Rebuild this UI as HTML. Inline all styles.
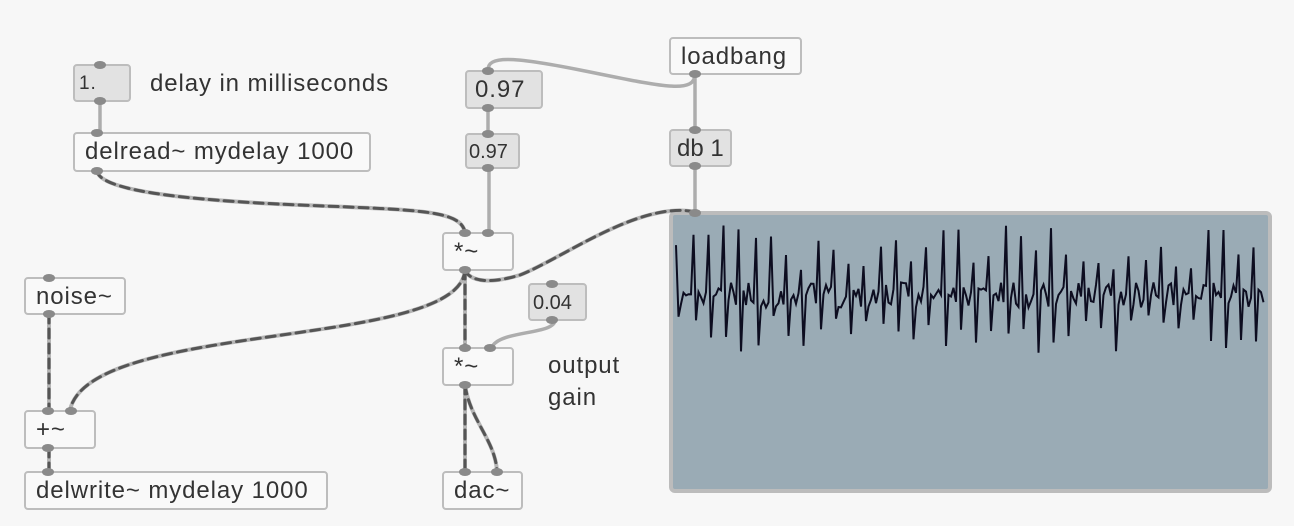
<!DOCTYPE html>
<html><head><meta charset="utf-8"><style>
body{margin:0;width:1294px;height:526px;background:#f7f7f7;overflow:hidden;font-family:"Liberation Sans",sans-serif;position:relative}
.b{position:absolute;box-sizing:border-box;border:2px solid #bdbdbd;border-radius:4px;background:#f9f9f9;color:#333;font-size:24px;letter-spacing:0.9px;padding-left:10px;line-height:36px;white-space:nowrap}
.n{background:#e2e2e2}
.t{position:absolute;color:#333;font-size:24px;letter-spacing:0.9px;white-space:nowrap}
svg{position:absolute;left:0;top:0}
</style></head><body>
<svg width="1294" height="526">
<rect x="671" y="213" width="599" height="278" rx="4" fill="#9aabb5" stroke="#bcbcbc" stroke-width="4"/>
<polyline id="w" fill="none" stroke="#0d0d20" stroke-width="2"/>
<g fill="none" stroke-linecap="round">
<path d="M100 100V132M488 108V133M489 168V232M695 74V129M695 166V212M695 74C695 95 660 86 580 70C510 56 488 56 488 70M555 320C555 335 500 330 492 347" stroke="#adadad" stroke-width="3.5"/>
<g stroke="#b5b5b5" stroke-width="4">
<path id="a" d="M97 170C97 190 180 200 300 205C420 210 460 210 465 232M465 270C460 350 90 320 70 410M695 212C640 200 560 260 520 275C470 290 465 270 465 270M49 314V410M465 270V347M49 448V471M465 385V471M465 385C470 420 495 440 497 471"/>
</g>
<use href="#a" stroke="#555" stroke-width="3" stroke-dasharray="9 6"/>
</g>
</svg>
<div class="b n" style="left:73px;top:64px;width:58px;height:38px;font-size:19px;padding-left:4px">1.</div>
<div class="t" style="left:150px;top:70px">delay in milliseconds</div>
<div class="b" style="left:73px;top:132px;width:298px;height:40px">delread~ mydelay 1000</div>
<div class="b n" style="left:465px;top:70px;width:78px;height:39px;padding-left:8px">0.97</div>
<div class="b n" style="left:465px;top:133px;width:55px;height:36px;font-size:20px;padding-left:2px;line-height:34px;letter-spacing:0">0.97</div>
<div class="b" style="left:669px;top:37px;width:133px;height:38px">loadbang</div>
<div class="b n" style="left:669px;top:129px;width:63px;height:38px;padding-left:6px;letter-spacing:0">db 1</div>
<div class="b" style="left:442px;top:232px;width:72px;height:39px">*~</div>
<div class="b" style="left:24px;top:277px;width:102px;height:38px">noise~</div>
<div class="b n" style="left:528px;top:283px;width:59px;height:38px;font-size:20px;padding-left:3px;letter-spacing:0">0.04</div>
<div class="b" style="left:442px;top:347px;width:72px;height:39px">*~</div>
<div class="t" style="left:548px;top:350px;line-height:32px">output<br>gain</div>
<div class="b" style="left:24px;top:410px;width:72px;height:39px">+~</div>
<div class="b" style="left:24px;top:471px;width:304px;height:39px">delwrite~ mydelay 1000</div>
<div class="b" style="left:442px;top:471px;width:81px;height:39px">dac~</div>
<svg width="1294" height="526"><g fill="#8a8a8a">
<ellipse cx="100" cy="65" rx="6" ry="4"/><ellipse cx="100" cy="101" rx="6" ry="4"/>
<ellipse cx="97" cy="133" rx="6" ry="4"/><ellipse cx="97" cy="171" rx="6" ry="4"/>
<ellipse cx="488" cy="71" rx="6" ry="4"/><ellipse cx="488" cy="108" rx="6" ry="4"/>
<ellipse cx="488" cy="134" rx="6" ry="4"/><ellipse cx="488" cy="168" rx="6" ry="4"/>
<ellipse cx="695" cy="74" rx="6" ry="4"/><ellipse cx="695" cy="130" rx="6" ry="4"/><ellipse cx="695" cy="166" rx="6" ry="4"/>
<ellipse cx="695" cy="213" rx="6" ry="4"/>
<ellipse cx="465" cy="233" rx="6" ry="4"/><ellipse cx="488" cy="233" rx="6" ry="4"/><ellipse cx="465" cy="270" rx="6" ry="4"/>
<ellipse cx="49" cy="278" rx="6" ry="4"/><ellipse cx="49" cy="314" rx="6" ry="4"/>
<ellipse cx="552" cy="284" rx="6" ry="4"/><ellipse cx="552" cy="320" rx="6" ry="4"/>
<ellipse cx="465" cy="348" rx="6" ry="4"/><ellipse cx="490" cy="348" rx="6" ry="4"/><ellipse cx="465" cy="385" rx="6" ry="4"/>
<ellipse cx="48" cy="411" rx="6" ry="4"/><ellipse cx="71" cy="411" rx="6" ry="4"/><ellipse cx="48" cy="448" rx="6" ry="4"/>
<ellipse cx="48" cy="472" rx="6" ry="4"/>
<ellipse cx="465" cy="472" rx="6" ry="4"/><ellipse cx="497" cy="472" rx="6" ry="4"/>
</g></svg>
<script>
var s=11,r=function(){s=(s*16807)%2147483647;return s/2147483647};
var p=[];for(var x=676;x<1266;x+=2.5){var ph=((x-676)%15.6)/15.6;var y=295+(r()-0.5)*25;
if(ph<0.16)y=225+r()*45;else if(ph<0.32)y=315+r()*38;p.push(x+","+y.toFixed(1));}
document.getElementById('w').setAttribute('points',p.join(' '));
</script>
</body></html>
